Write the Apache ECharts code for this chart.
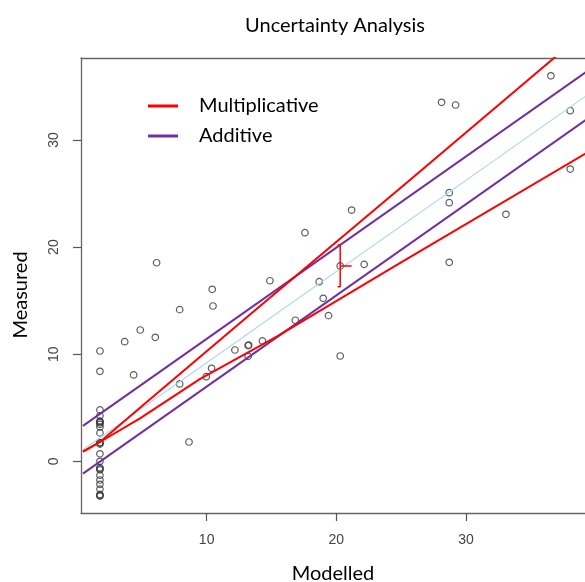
<!DOCTYPE html>
<html>
<head>
<meta charset="utf-8">
<script src="https://cdn.jsdelivr.net/npm/echarts@6/dist/echarts.min.js"></script>
<style>
html,body{margin:0;padding:0;background:#fff;}
#chart{width:585px;height:582px;}
</style>
</head>
<body>
<div id="chart"></div>
<script>
// ---- data ----
const modelled = [
  1.77,1.77,1.77,1.77,1.77,1.77,1.77,1.77,1.77,1.77,1.77,1.77,1.77,1.77,1.77,1.77,1.77,1.77,1.77,1.77,1.77,1.77,1.77,1.77,1.77,
  6.14,10.43,10.49,7.92,4.88,3.68,6.04,4.37,7.92,12.18,13.2,10.38,9.97,8.64,
  21.18,17.58,14.88,18.68,20.3,22.15,18.99,19.4,16.84,13.24,14.3,13.2,20.3,
  36.55,28.12,29.2,38.04,38.04,28.71,28.71,33.08,28.71
];
const measured = [
  10.3,8.4,4.8,4.25,3.75,3.7,3.6,3.45,3.2,2.65,1.75,1.7,1.6,0.7,0.0,-0.6,-0.7,-0.8,-1.3,-1.75,-2.15,-2.6,-3.1,-3.2,-3.25,
  18.54,16.06,14.5,14.16,12.26,11.17,11.58,8.06,7.22,10.39,10.8,8.68,7.9,1.8,
  23.46,21.35,16.86,16.77,18.24,18.39,15.22,13.6,13.17,10.86,11.24,9.8,9.83,
  36.0,33.52,33.27,32.74,27.29,25.08,24.15,23.06,18.58
];
const fitLine = [[0.46,1.07],[40,34.75]];
const multUpper = [[0.46,0.9],[1.77,1.8],[4.86,5.0],[13.3,13.65],[25.7,26.3],[38,38.9]];
const multLower = [[0.46,0.9],[1.77,1.8],[4.86,4.0],[9.5,7.7],[15.4,11.65],[24.9,18.5],[40,29.3]];
const addUpper = [[0.46,3.3],[40,36.98]];
const addLower = [[0.46,-1.15],[40,32.53]];
const errBar = [[20.1,20.2],[20.3,20.2],[20.3,16.3],[20.1,16.3]];
const errTick = [[20.3,18.24],[21.18,18.24]];
const xTicks = [10,20,30];
const yTicks = [0,10,20,30];

const points = modelled.map((x,i)=>[x,measured[i]]);

const chart = echarts.init(document.getElementById('chart'), null, {renderer:'canvas'});
const lineBase = {type:'line', showSymbol:false, symbol:'none', animation:false, silent:true, clip:true};
const frameLine = {show:true, onZero:false, lineStyle:{color:'#666', width:1.3}};
chart.setOption({
  animation:false,
  backgroundColor:'#fff',
  grid:{left:81, top:58, bottom:69, right:0, show:false},
  legend:{
    data:['Multiplicative','Additive'], orient:'vertical', left:143, top:90,
    icon:'rect', itemWidth:30, itemHeight:3, itemGap:8, selectedMode:false,
    textStyle:{fontFamily:'Lato', fontSize:20, color:'#000', lineHeight:22, padding:[0,0,0,16]}
  },
  xAxis:[{
    type:'value', min:0.31, max:39.18,
    axisLine:frameLine,
    axisTick:{show:true, length:8, customValues:xTicks, lineStyle:{color:'#555', width:1.2}},
    axisLabel:{customValues:xTicks, margin:20, fontSize:14, color:'#444', fontFamily:'Liberation Sans'},
    splitLine:{show:false}
  },{
    type:'value', position:'top', min:0.31, max:39.18,
    axisLine:frameLine, axisTick:{show:false}, axisLabel:{show:false}, splitLine:{show:false}
  }],
  yAxis:{
    type:'value', min:-4.83, max:37.66,
    axisLine:frameLine,
    axisTick:{show:true, length:8, customValues:yTicks, lineStyle:{color:'#555', width:1.2}},
    axisLabel:{customValues:yTicks, margin:20, rotate:90, fontSize:14, color:'#444', fontFamily:'Liberation Sans'},
    splitLine:{show:false}
  },
  graphic:[
    {type:'text', x:335, y:26, style:{text:'Uncertainty Analysis', align:'center', verticalAlign:'middle', fontFamily:'Lato', fontSize:20, fill:'#000'}},
    {type:'text', x:333, y:574, style:{text:'Modelled', align:'center', verticalAlign:'middle', fontFamily:'Lato', fontSize:20, fill:'#000'}},
    {type:'text', x:21, y:295, rotation:Math.PI/2, style:{text:'Measured', x:0, y:0, align:'center', verticalAlign:'middle', fontFamily:'Lato', fontSize:20, fill:'#000'}}
  ],
  series:[
    {type:'scatter', name:'Data', data:points, symbol:'circle', symbolSize:6.5, silent:true, animation:false, z:2,
      itemStyle:{color:'rgba(0,0,0,0)', borderColor:'#333', borderWidth:1.2}},
    Object.assign({}, lineBase, {name:'Fit', data:fitLine, z:3, lineStyle:{color:'#add8e6', width:1.2}}),
    Object.assign({}, lineBase, {name:'Additive', data:addUpper, z:4, color:'#7030a0', lineStyle:{color:'#7030a0', width:2}}),
    Object.assign({}, lineBase, {name:'Additive', data:addLower, z:4, color:'#7030a0', lineStyle:{color:'#7030a0', width:2}}),
    Object.assign({}, lineBase, {name:'Multiplicative', data:multUpper, z:5, color:'#ff0000', lineStyle:{color:'#ff0000', width:2}}),
    Object.assign({}, lineBase, {name:'Multiplicative', data:multLower, z:5, color:'#ff0000', lineStyle:{color:'#ff0000', width:2}}),
    Object.assign({}, lineBase, {name:'ErrBar', data:errBar, z:6, lineStyle:{color:'#ff0000', width:1.5}}),
    Object.assign({}, lineBase, {name:'ErrTick', data:errTick, z:6, lineStyle:{color:'#ff0000', width:1.5}})
  ]
});
</script>
</body>
</html>
